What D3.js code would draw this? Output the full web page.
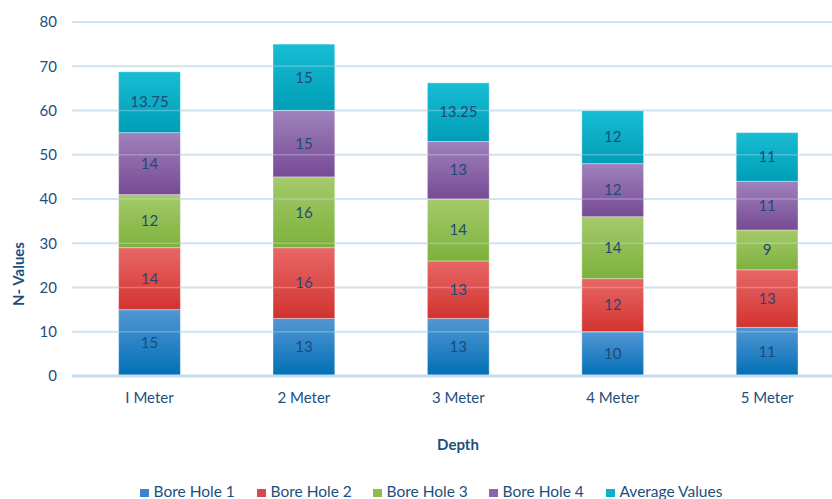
<!DOCTYPE html>
<html>
<head>
<meta charset="utf-8">
<script src="https://cdn.jsdelivr.net/npm/d3@7"></script>
<style>
  html, body { margin: 0; padding: 0; background: #fff; }
  svg { display: block; font-family: Lato, "Open Sans", sans-serif; }
</style>
</head>
<body>
<svg id="chart" width="832" height="499"></svg>
<script>
// Depth categories and SPT N-values per bore hole
const depths = ["I Meter", "2 Meter", "3 Meter", "4 Meter", "5 Meter"];
const boreHole1 = [15, 13, 13, 10, 11];
const boreHole2 = [14, 16, 13, 12, 13];
const boreHole3 = [12, 16, 14, 14, 9];
const boreHole4 = [14, 15, 13, 12, 11];
const averageValues = [13.75, 15, 13.25, 12, 11];
const seriesNames = ["Bore Hole 1", "Bore Hole 2", "Bore Hole 3", "Bore Hole 4", "Average Values"];
const yTicks = [0, 10, 20, 30, 40, 50, 60, 70, 80];

// Gradient colour pairs (top, bottom) per series
const palette = [
  ["#5396d3", "#0070b6"],
  ["#e86767", "#d1332f"],
  ["#a5ca6c", "#7db13c"],
  ["#9f82bb", "#774a95"],
  ["#18bdd4", "#009db6"]
];
const legendColor = ["#3a86cc", "#e0474a", "#8dbd4c", "#8a66ac", "#0eb1c9"];
const textColor = "#1b4f80";
const font = "Lato, 'Open Sans', sans-serif";

const table = depths.map((d, i) => ({
  depth: d,
  "Bore Hole 1": boreHole1[i],
  "Bore Hole 2": boreHole2[i],
  "Bore Hole 3": boreHole3[i],
  "Bore Hole 4": boreHole4[i],
  "Average Values": averageValues[i]
}));

const svg = d3.select("#chart");

const x = d3.scaleBand().domain(depths).range([72.3, 844.3]).paddingInner(0.6).paddingOuter(0.3);
const y = d3.scaleLinear().domain([0, 80]).range([376, 22]);

// Vertical gradients, lighter at the top of each segment
const defs = svg.append("defs");
palette.forEach((c, i) => {
  const g = defs.append("linearGradient").attr("id", "grad" + i)
    .attr("x1", 0).attr("y1", 0).attr("x2", 0).attr("y2", 1);
  g.append("stop").attr("offset", "0%").attr("stop-color", c[0]);
  g.append("stop").attr("offset", "100%").attr("stop-color", c[1]);
});

// Gridlines
const gridColor = "#cfe2f1";
svg.append("g").selectAll("line").data(yTicks.filter(t => t > 0)).join("line")
  .attr("x1", 72).attr("x2", 832)
  .attr("y1", d => y(d)).attr("y2", d => y(d))
  .attr("stroke", gridColor).attr("stroke-width", 2);

// Stacked bars
const stack = d3.stack().keys(seriesNames)(table);
const layers = svg.append("g").selectAll("g").data(stack).join("g")
  .attr("fill", (d, i) => `url(#grad${i})`);
layers.selectAll("rect").data(d => d).join("rect")
  .attr("x", d => x(d.data.depth))
  .attr("width", x.bandwidth())
  .attr("y", d => y(d[1]))
  .attr("height", d => y(d[0]) - y(d[1]))
  .attr("stroke", "rgba(255,255,255,0.35)")
  .attr("stroke-width", 1);

// Faint gridlines showing through the bars
svg.append("g").selectAll("line").data(yTicks.filter(t => t > 0)).join("line")
  .attr("x1", 72).attr("x2", 832)
  .attr("y1", d => y(d)).attr("y2", d => y(d))
  .attr("stroke", "#dcebf7").attr("stroke-width", 1.5).attr("opacity", 0.3);

// Baseline
svg.append("line").attr("x1", 72).attr("x2", 832).attr("y1", y(0)).attr("y2", y(0))
  .attr("stroke", "#c6dcee").attr("stroke-width", 3);

// Data labels, centred in each segment
stack.forEach(layer => {
  svg.append("g").selectAll("text").data(layer).join("text")
    .attr("x", d => x(d.data.depth) + x.bandwidth() / 2)
    .attr("y", d => (y(d[0]) + y(d[1])) / 2)
    .attr("dy", "0.35em")
    .attr("text-anchor", "middle")
    .attr("font-size", 15)
    .attr("fill", "#1d4a78")
    .text(d => d.data[layer.key]);
});

// Y axis labels
const yAxis = svg.append("g").attr("transform", "translate(57,0)")
  .call(d3.axisLeft(y).tickValues(yTicks).tickSize(0).tickPadding(0));
yAxis.select(".domain").remove();
yAxis.selectAll("text").attr("font-size", 15).attr("fill", textColor)
  .attr("font-family", font);

// X axis labels
const xAxis = svg.append("g").attr("transform", `translate(0,${y(0)})`)
  .call(d3.axisBottom(x).tickSize(0));
xAxis.select(".domain").remove();
xAxis.selectAll("text").attr("font-size", 15).attr("fill", textColor)
  .attr("font-family", font).attr("y", 27).attr("dy", 0);

// Axis titles
svg.append("text").attr("transform", "translate(18.5,274) rotate(-90)")
  .attr("text-anchor", "middle").attr("dy", "0.35em")
  .attr("font-size", 15).attr("font-weight", "bold").attr("fill", textColor)
  .text("N- Values");
svg.append("text").attr("x", 458).attr("y", 450)
  .attr("text-anchor", "middle")
  .attr("font-size", 15).attr("font-weight", "bold").attr("fill", textColor)
  .text("Depth");

// Legend
const legendX = [140, 257, 373, 489, 606];
const legend = svg.append("g").selectAll("g").data(seriesNames).join("g")
  .attr("transform", (d, i) => `translate(${legendX[i]},0)`);
legend.append("rect").attr("x", 0).attr("y", 489).attr("width", 9).attr("height", 8)
  .attr("fill", (d, i) => legendColor[i]);
legend.append("text").attr("x", 13.5).attr("y", 497.4)
  .attr("font-size", 15.5).attr("fill", textColor).text(d => d);
</script>
</body>
</html>
